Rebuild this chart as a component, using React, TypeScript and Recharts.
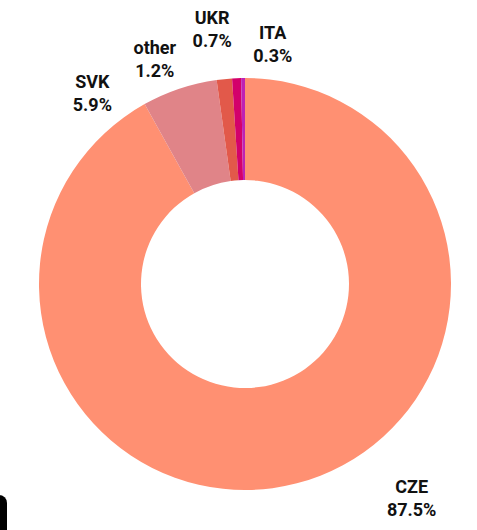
import React from "react";
import { PieChart, Pie, Cell } from "recharts";

// slice sizes (share of the ring) and the percentages printed in the labels
const countries = ["CZE", "SVK", "other", "UKR", "ITA"];
const shares = [91.9, 5.9, 1.2, 0.7, 0.3];
const shownPercent = ["87.5%", "5.9%", "1.2%", "0.7%", "0.3%"];

const colors = ["#FF9072", "#E08488", "#E2594A", "#D3006B", "#BE22B4"];

// nudges that keep crowded labels apart
const labelNudge = [
  [106, -18],
  [-76, 38],
  [-66, 16],
  [-23, -13],
  [30, 2],
];

const data = countries.map((name, i) => ({
  name,
  value: shares[i],
  shown: shownPercent[i],
}));

const RADIAN = Math.PI / 180;

const renderLabel = (props: any) => {
  const { cx, cy, midAngle, outerRadius, index } = props;
  const r = outerRadius + 35;
  const x = cx + r * Math.cos(-midAngle * RADIAN) + labelNudge[index][0];
  const y = cy + r * Math.sin(-midAngle * RADIAN) + labelNudge[index][1];
  return (
    <text
      x={x}
      y={y}
      textAnchor="middle"
      fill="#111"
      fontFamily="Roboto, sans-serif"
      fontWeight={700}
      fontSize={18}
    >
      <tspan x={x} dy={-6}>
        {data[index].name}
      </tspan>
      <tspan x={x} dy={23}>
        {data[index].shown}
      </tspan>
    </text>
  );
};

const App = () => {
  return (
    <div style={{ position: "relative" }}>
      <PieChart
        width={469}
        height={522}
        margin={{ top: 0, right: 0, bottom: 0, left: 0 }}
        style={{ overflow: "visible" }}
      >
        <Pie
          data={data}
          dataKey="value"
          cx={237}
          cy={276}
          innerRadius={104}
          outerRadius={206}
          startAngle={90}
          endAngle={-270}
          stroke="none"
          label={renderLabel}
          labelLine={false}
          isAnimationActive={false}
        >
          {data.map((d, i) => (
            <Cell key={d.name} fill={colors[i]} />
          ))}
        </Pie>
      </PieChart>
      <div
        style={{
          position: "fixed",
          left: -10,
          top: 495,
          width: 17,
          height: 60,
          borderRadius: 8,
          background: "#000",
        }}
      />
    </div>
  );
};

export default App;
